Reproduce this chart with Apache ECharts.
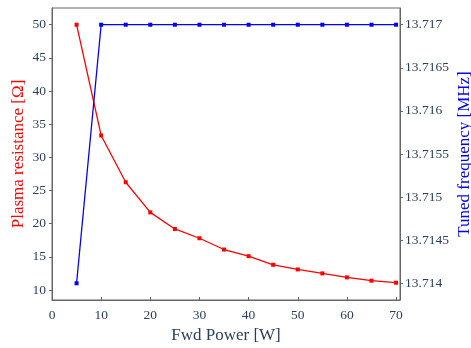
<!DOCTYPE html>
<html>
<head>
<meta charset="utf-8">
<script src="https://cdn.jsdelivr.net/npm/echarts@6/dist/echarts.min.js"></script>
<style>html,body{margin:0;padding:0;background:#fff;}#c{width:471px;height:348px;}</style>
</head>
<body>
<div id="c"></div>
<script>
const fwdPower = [5, 10, 15, 20, 25, 30, 35, 40, 45, 50, 55, 60, 65, 70];
const resistance = [50, 33.3, 26.25, 21.7, 19.2, 17.8, 16.1, 15.1, 13.8, 13.1, 12.5, 11.9, 11.4, 11.1];
const frequency = [13.714, 13.717, 13.717, 13.717, 13.717, 13.717, 13.717, 13.717, 13.717, 13.717, 13.717, 13.717, 13.717, 13.717];
const xTicks = [0, 10, 20, 30, 40, 50, 60, 70];
const leftTicks = [10, 15, 20, 25, 30, 35, 40, 45, 50];
const rightTicks = [13.714, 13.7145, 13.715, 13.7155, 13.716, 13.7165, 13.717];

const FONT = '"Liberation Serif", "Times New Roman", serif';
const TXT = '#2a3f5f';
const LINE = '#666666';

const chart = echarts.init(document.getElementById('c'), null, {renderer: 'canvas'});
chart.setOption({
  animation: false,
  backgroundColor: '#ffffff',
  grid: {left: 52, right: 71, top: 8, bottom: 48, show: true, borderColor: LINE, borderWidth: 1,
    containLabel: false, outerBoundsMode: 'none'},
  xAxis: {
    type: 'value', min: 0, max: 70.8,
    name: 'Fwd Power [W]', nameLocation: 'middle', nameGap: 27, nameMoveOverlap: false,
    nameTextStyle: {color: TXT, fontFamily: FONT, fontSize: 17},
    axisLine: {show: true, lineStyle: {color: LINE, width: 1}},
    axisTick: {show: true, inside: true, length: 3, lineStyle: {color: LINE}, customValues: xTicks},
    axisLabel: {color: TXT, fontFamily: FONT, fontSize: 13.5, margin: 8, customValues: xTicks},
    splitLine: {show: false}
  },
  yAxis: [{
    type: 'value', position: 'left', min: 8.49, max: 52.52,
    name: 'Plasma resistance [Ω]', nameLocation: 'middle', nameGap: 25, nameMoveOverlap: false,
    nameTextStyle: {color: '#ff0000', fontFamily: FONT, fontSize: 17},
    axisLine: {show: true, lineStyle: {color: LINE, width: 1}},
    axisTick: {show: true, inside: false, length: 3, lineStyle: {color: LINE}, customValues: leftTicks},
    axisLabel: {color: TXT, fontFamily: FONT, fontSize: 13.5, margin: 6, customValues: leftTicks},
    splitLine: {show: false}
  }, {
    type: 'value', position: 'right', min: 13.713806, max: 13.717194,
    name: 'Tuned frequency [MHz]', nameLocation: 'middle', nameGap: 56, nameMoveOverlap: false,
    nameTextStyle: {color: '#0000ff', fontFamily: FONT, fontSize: 17},
    axisLine: {show: true, lineStyle: {color: LINE, width: 1}},
    axisTick: {show: true, inside: false, length: 3, lineStyle: {color: LINE}, customValues: rightTicks},
    axisLabel: {color: TXT, fontFamily: FONT, fontSize: 13.5, margin: 5, customValues: rightTicks,
      formatter: v => String(parseFloat(v.toFixed(4)))},
    splitLine: {show: false}
  }],
  series: [{
    type: 'line', yAxisIndex: 0,
    data: fwdPower.map((x, i) => [x, resistance[i]]),
    symbol: 'rect', symbolSize: 4, showSymbol: true,
    lineStyle: {color: '#ff0000', width: 1.3},
    itemStyle: {color: '#ff0000'}
  }, {
    type: 'line', yAxisIndex: 1,
    data: fwdPower.map((x, i) => [x, frequency[i]]),
    symbol: 'rect', symbolSize: 4, showSymbol: true,
    lineStyle: {color: '#0000ff', width: 1.3},
    itemStyle: {color: '#0000ff'}
  }]
});
</script>
</body>
</html>
